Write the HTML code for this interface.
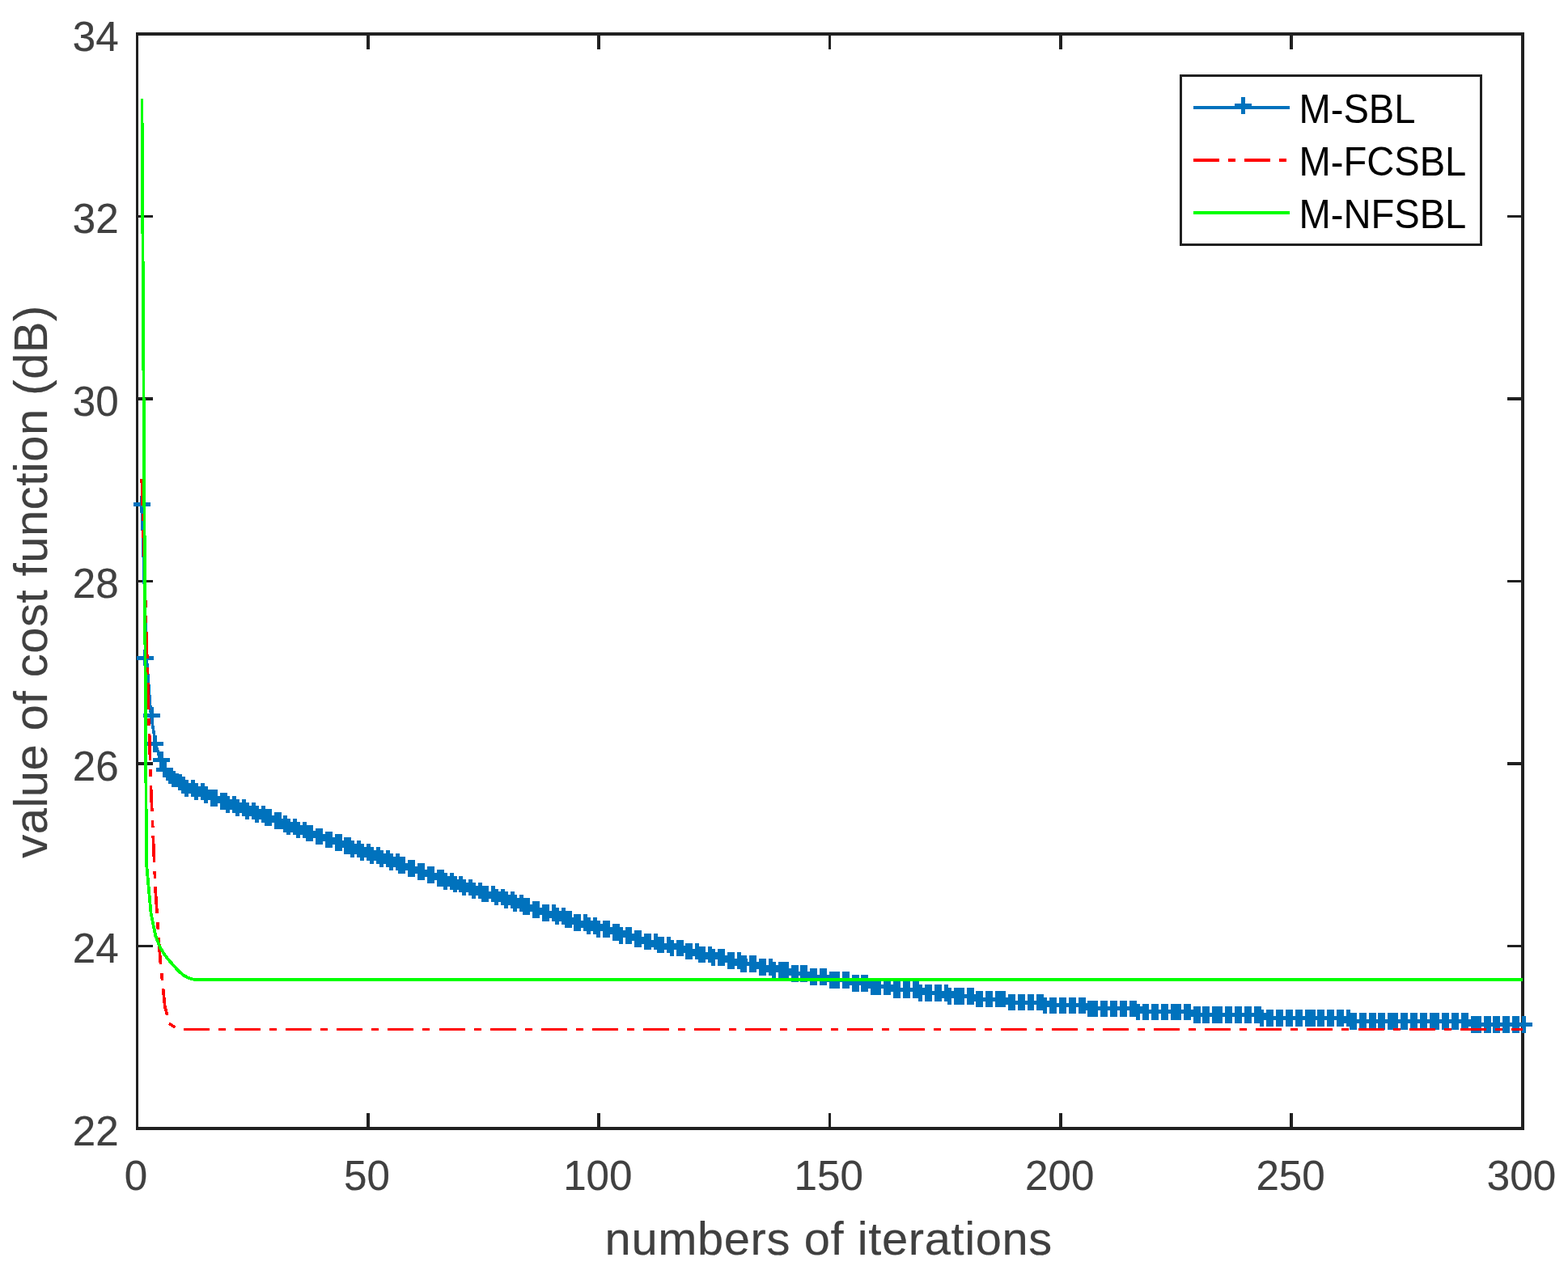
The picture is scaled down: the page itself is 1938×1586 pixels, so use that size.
<!DOCTYPE html>
<html lang="en"><head><meta charset="utf-8"><title>Convergence of cost function</title>
<style>html,body{margin:0;padding:0;background:#fff;}body{width:1938px;height:1586px;overflow:hidden;}svg{display:block;}text{font-family:"Liberation Sans",Arial,Helvetica,sans-serif;}.xt,.yt,#xl,#yl{stroke:#404040;stroke-width:0.2px;}</style></head>
<body>
<svg width="1938" height="1586" viewBox="0 0 1938 1586">
<rect x="0" y="0" width="1938" height="1586" fill="#ffffff"/>
<path id="axes" d="M168,40H1884V44H168zM168,1393H1884V1397H168zM168,40H171V1397H168zM1880,40H1884V1397H1880zM453,44H457V61H453zM453,1376H457V1393H453zM738,44H742V61H738zM738,1376H742V1393H738zM1024,44H1027V61H1024zM1024,1376H1027V1393H1024zM1309,44H1313V61H1309zM1309,1376H1313V1393H1309zM1594,44H1598V61H1594zM1594,1376H1598V1393H1594zM171,266H189V269H171zM1863,266H1880V269H1863zM171,491H189V495H171zM1863,491H1880V495H1863zM171,717H189V720H171zM1863,717H1880V720H1863zM171,942H189V946H171zM1863,942H1880V946H1863zM171,1168H189V1171H171zM1863,1168H1880V1171H1863z" fill="#202020" shape-rendering="crispEdges"/>
<path d="M175.41,623.70 L181.12,813.04 L186.62,884.04 L192.33,919.54 L198.04,939.26 L203.75,951.10 L209.46,958.99 L215.17,962.93 L220.88,966.87 L226.58,970.82 L232.29,974.76 L238.00,974.76 L243.71,978.71 L249.42,978.71 L255.12,982.65 L260.83,986.60 L266.54,986.60 L272.25,990.54 L277.96,990.54 L283.67,994.49 L289.38,994.49 L295.08,998.43 L300.79,998.43 L306.50,1002.37 L312.21,1002.37 L317.92,1006.32 L323.62,1006.32 L329.33,1010.26 L335.04,1010.26 L340.75,1014.21 L346.46,1014.21 L352.17,1018.15 L357.88,1022.10 L363.58,1022.10 L369.29,1026.04 L375.00,1026.04 L380.71,1029.99 L386.42,1029.99 L392.12,1033.93 L397.83,1033.93 L403.54,1037.88 L409.25,1037.88 L414.96,1041.82 L420.67,1041.82 L426.38,1045.76 L432.08,1045.76 L437.79,1049.71 L443.50,1049.71 L449.21,1053.65 L454.92,1053.65 L460.62,1057.60 L466.33,1057.60 L472.04,1061.54 L477.75,1061.54 L483.46,1065.49 L489.17,1065.49 L494.88,1069.43 L500.58,1069.43 L506.29,1073.38 L512.00,1073.38 L517.71,1077.32 L523.42,1077.32 L529.12,1081.26 L534.83,1081.26 L540.54,1085.21 L546.25,1085.21 L551.96,1089.15 L557.67,1089.15 L563.38,1093.10 L569.08,1093.10 L574.79,1097.04 L580.50,1097.04 L586.21,1100.99 L591.92,1100.99 L597.62,1104.93 L603.33,1104.93 L609.04,1104.93 L614.75,1108.88 L620.46,1108.88 L626.17,1112.82 L631.88,1112.82 L637.58,1116.76 L643.29,1116.76 L649.00,1120.71 L654.71,1120.71 L660.42,1124.65 L666.12,1124.65 L671.83,1128.60 L677.54,1128.60 L683.25,1128.60 L688.96,1132.54 L694.67,1132.54 L700.38,1136.49 L706.08,1136.49 L711.79,1140.43 L717.50,1140.43 L723.21,1140.43 L728.92,1144.38 L734.62,1144.38 L740.33,1148.32 L746.04,1148.32 L751.75,1148.32 L757.46,1152.27 L763.17,1152.27 L768.88,1156.21 L774.58,1156.21 L780.29,1156.21 L786.00,1160.15 L791.71,1160.15 L797.42,1164.10 L803.12,1164.10 L808.83,1164.10 L814.54,1168.04 L820.25,1168.04 L825.96,1168.04 L831.67,1171.99 L837.38,1171.99 L843.08,1171.99 L848.79,1175.93 L854.50,1175.93 L860.21,1175.93 L865.92,1179.88 L871.62,1179.88 L877.33,1179.88 L883.04,1183.82 L888.75,1183.82 L894.46,1183.82 L900.17,1187.77 L905.88,1187.77 L911.58,1187.77 L917.29,1191.71 L923.00,1191.71 L928.71,1191.71 L934.42,1191.71 L940.12,1195.66 L945.83,1195.66 L951.54,1195.66 L957.25,1199.60 L962.96,1199.60 L968.67,1199.60 L974.38,1199.60 L980.08,1203.54 L985.79,1203.54 L991.50,1203.54 L997.21,1203.54 L1002.92,1207.49 L1008.62,1207.49 L1014.33,1207.49 L1020.04,1207.49 L1025.75,1211.43 L1031.46,1211.43 L1037.17,1211.43 L1042.88,1211.43 L1048.58,1211.43 L1054.29,1215.38 L1060.00,1215.38 L1065.71,1215.38 L1071.42,1215.38 L1077.12,1219.32 L1082.83,1219.32 L1088.54,1219.32 L1094.25,1219.32 L1099.96,1219.32 L1105.67,1223.27 L1111.38,1223.27 L1117.08,1223.27 L1122.79,1223.27 L1128.50,1223.27 L1134.21,1223.27 L1139.92,1227.21 L1145.62,1227.21 L1151.33,1227.21 L1157.04,1227.21 L1162.75,1227.21 L1168.46,1227.21 L1174.17,1231.16 L1179.88,1231.16 L1185.58,1231.16 L1191.29,1231.16 L1197.00,1231.16 L1202.71,1231.16 L1208.42,1235.10 L1214.12,1235.10 L1219.83,1235.10 L1225.54,1235.10 L1231.25,1235.10 L1236.96,1235.10 L1242.67,1235.10 L1248.38,1239.04 L1254.08,1239.04 L1259.79,1239.04 L1265.50,1239.04 L1271.21,1239.04 L1276.92,1239.04 L1282.62,1239.04 L1288.33,1239.04 L1294.04,1242.99 L1299.75,1242.99 L1305.46,1242.99 L1311.17,1242.99 L1316.88,1242.99 L1322.58,1242.99 L1328.29,1242.99 L1334.00,1242.99 L1339.71,1242.99 L1345.42,1246.93 L1351.12,1246.93 L1356.83,1246.93 L1362.54,1246.93 L1368.25,1246.93 L1373.96,1246.93 L1379.67,1246.93 L1385.38,1246.93 L1391.08,1246.93 L1396.79,1246.93 L1402.50,1246.93 L1408.21,1250.88 L1413.92,1250.88 L1419.62,1250.88 L1425.33,1250.88 L1431.04,1250.88 L1436.75,1250.88 L1442.46,1250.88 L1448.17,1250.88 L1453.88,1250.88 L1459.58,1250.88 L1465.29,1250.88 L1471.00,1250.88 L1476.71,1254.82 L1482.42,1254.82 L1488.12,1254.82 L1493.83,1254.82 L1499.54,1254.82 L1505.25,1254.82 L1510.96,1254.82 L1516.67,1254.82 L1522.38,1254.82 L1528.08,1254.82 L1533.79,1254.82 L1539.50,1254.82 L1545.21,1254.82 L1550.92,1254.82 L1556.62,1254.82 L1562.33,1258.77 L1568.04,1258.77 L1573.75,1258.77 L1579.46,1258.77 L1585.17,1258.77 L1590.88,1258.77 L1596.58,1258.77 L1602.29,1258.77 L1608.00,1258.77 L1613.71,1258.77 L1619.42,1258.77 L1625.12,1258.77 L1630.83,1258.77 L1636.54,1258.77 L1642.25,1258.77 L1647.96,1258.77 L1653.67,1258.77 L1659.38,1258.77 L1665.08,1258.77 L1670.79,1262.71 L1676.50,1262.71 L1682.21,1262.71 L1687.92,1262.71 L1693.62,1262.71 L1699.33,1262.71 L1705.04,1262.71 L1710.75,1262.71 L1716.46,1262.71 L1722.17,1262.71 L1727.88,1262.71 L1733.58,1262.71 L1739.29,1262.71 L1745.00,1262.71 L1750.71,1262.71 L1756.42,1262.71 L1762.12,1262.71 L1767.83,1262.71 L1773.54,1262.71 L1779.25,1262.71 L1784.96,1262.71 L1790.67,1262.71 L1796.38,1262.71 L1802.08,1262.71 L1807.79,1262.71 L1813.50,1262.71 L1819.21,1266.66 L1824.92,1266.66 L1830.62,1266.66 L1836.33,1266.66 L1842.04,1266.66 L1847.75,1266.66 L1853.46,1266.66 L1859.17,1266.66 L1864.88,1266.66 L1870.58,1266.66 L1876.29,1266.66 L1882.00,1266.66" fill="none" stroke="#0072BD" stroke-width="3.7" stroke-linejoin="miter" shape-rendering="crispEdges"/>
<path id="mk" d="M165,621h21v5h-21zM173,613h5v21h-5zM169,811h21v5h-21zM177,803h5v20h-5zM177,882h21v5h-21zM185,874h5v20h-5zM181,917h21v5h-21zM189,909h5v21h-5zM189,937h21v5h-21zM197,929h5v21h-5zM193,949h21v5h-21zM201,941h5v20h-5zM201,956h20v5h-20zM208,949h5v20h-5zM205,960h20v5h-20zM212,953h5v20h-5zM212,964h21v5h-21zM220,957h5v20h-5zM216,968h21v5h-21zM224,960h5v21h-5zM220,972h21v5h-21zM228,964h5v21h-5zM228,972h21v5h-21zM236,964h5v21h-5zM232,976h21v5h-21zM240,968h5v21h-5zM240,976h21v5h-21zM248,968h5v21h-5zM244,980h21v5h-21zM252,972h5v21h-5zM252,984h21v5h-21zM260,976h5v21h-5zM256,984h21v5h-21zM264,976h5v21h-5zM264,988h21v5h-21zM272,980h5v21h-5zM268,988h20v5h-20zM276,980h5v21h-5zM272,992h20v5h-20zM279,984h5v21h-5zM280,992h20v5h-20zM287,984h5v21h-5zM283,996h21v5h-21zM291,988h5v21h-5zM291,996h21v5h-21zM299,988h5v21h-5zM295,1000h21v5h-21zM303,992h5v21h-5zM303,1000h21v5h-21zM311,992h5v21h-5zM307,1004h21v5h-21zM315,996h5v21h-5zM315,1004h21v5h-21zM323,996h5v21h-5zM319,1008h21v5h-21zM327,1000h5v21h-5zM323,1008h21v5h-21zM331,1000h5v21h-5zM331,1012h21v5h-21zM339,1004h5v21h-5zM335,1012h21v5h-21zM343,1004h5v21h-5zM343,1016h20v5h-20zM350,1008h5v21h-5zM347,1020h20v5h-20zM354,1012h5v20h-5zM354,1020h21v5h-21zM362,1012h5v20h-5zM358,1024h21v5h-21zM366,1016h5v20h-5zM366,1024h21v5h-21zM374,1016h5v20h-5zM370,1027h21v5h-21zM378,1020h5v20h-5zM374,1027h21v5h-21zM382,1020h5v20h-5zM382,1031h21v5h-21zM390,1024h5v20h-5zM386,1031h21v5h-21zM394,1024h5v20h-5zM394,1035h21v5h-21zM402,1028h5v20h-5zM398,1035h21v5h-21zM406,1028h5v20h-5zM406,1039h21v5h-21zM414,1031h5v21h-5zM410,1039h20v5h-20zM418,1031h5v21h-5zM418,1043h20v5h-20zM425,1035h5v21h-5zM422,1043h20v5h-20zM429,1035h5v21h-5zM425,1047h21v5h-21zM433,1039h5v21h-5zM433,1047h21v5h-21zM441,1039h5v21h-5zM437,1051h21v5h-21zM445,1043h5v21h-5zM445,1051h21v5h-21zM453,1043h5v21h-5zM449,1055h21v5h-21zM457,1047h5v21h-5zM457,1055h21v5h-21zM465,1047h5v21h-5zM461,1059h21v5h-21zM469,1051h5v21h-5zM469,1059h21v5h-21zM477,1051h5v21h-5zM473,1063h21v5h-21zM481,1055h5v21h-5zM481,1063h20v5h-20zM489,1055h5v21h-5zM485,1067h20v5h-20zM492,1059h5v21h-5zM489,1067h20v5h-20zM496,1059h5v21h-5zM496,1071h21v5h-21zM504,1063h5v21h-5zM500,1071h21v5h-21zM508,1063h5v21h-5zM508,1075h21v5h-21zM516,1067h5v21h-5zM512,1075h21v5h-21zM520,1067h5v21h-5zM520,1079h21v5h-21zM528,1071h5v21h-5zM524,1079h21v5h-21zM532,1071h5v21h-5zM532,1083h21v5h-21zM540,1075h5v21h-5zM536,1083h21v5h-21zM544,1075h5v21h-5zM540,1087h21v5h-21zM548,1079h5v21h-5zM548,1087h21v5h-21zM556,1079h5v21h-5zM552,1091h20v5h-20zM560,1083h5v20h-5zM560,1091h20v5h-20zM567,1083h5v20h-5zM564,1095h20v5h-20zM571,1087h5v20h-5zM571,1095h21v5h-21zM579,1087h5v20h-5zM575,1098h21v5h-21zM583,1091h5v20h-5zM583,1098h21v5h-21zM591,1091h5v20h-5zM587,1102h21v5h-21zM595,1095h5v20h-5zM591,1102h21v5h-21zM599,1095h5v20h-5zM599,1102h21v5h-21zM607,1095h5v20h-5zM603,1106h21v5h-21zM611,1099h5v20h-5zM611,1106h21v5h-21zM619,1099h5v20h-5zM615,1110h21v5h-21zM623,1102h5v21h-5zM623,1110h20v5h-20zM631,1102h5v21h-5zM627,1114h20v5h-20zM634,1106h5v21h-5zM635,1114h20v5h-20zM642,1106h5v21h-5zM638,1118h21v5h-21zM646,1110h5v21h-5zM642,1118h21v5h-21zM650,1110h5v21h-5zM650,1122h21v5h-21zM658,1114h5v21h-5zM654,1122h21v5h-21zM662,1114h5v21h-5zM662,1126h21v5h-21zM670,1118h5v21h-5zM666,1126h21v5h-21zM674,1118h5v21h-5zM674,1126h21v5h-21zM682,1118h5v21h-5zM678,1130h21v5h-21zM686,1122h5v21h-5zM686,1130h21v5h-21zM694,1122h5v21h-5zM690,1134h21v5h-21zM698,1126h5v21h-5zM694,1134h20v5h-20zM702,1126h5v21h-5zM702,1138h20v5h-20zM709,1130h5v21h-5zM706,1138h20v5h-20zM713,1130h5v21h-5zM713,1138h21v5h-21zM721,1130h5v21h-5zM717,1142h21v5h-21zM725,1134h5v21h-5zM725,1142h21v5h-21zM733,1134h5v21h-5zM729,1146h21v5h-21zM737,1138h5v21h-5zM737,1146h21v5h-21zM745,1138h5v21h-5zM741,1146h21v5h-21zM749,1138h5v21h-5zM749,1150h21v5h-21zM757,1142h5v21h-5zM753,1150h21v5h-21zM761,1142h5v21h-5zM757,1154h21v5h-21zM765,1146h5v21h-5zM765,1154h20v5h-20zM773,1146h5v21h-5zM769,1154h20v5h-20zM776,1146h5v21h-5zM777,1158h20v5h-20zM784,1150h5v21h-5zM780,1158h21v5h-21zM788,1150h5v21h-5zM788,1162h21v5h-21zM796,1154h5v20h-5zM792,1162h21v5h-21zM800,1154h5v20h-5zM800,1162h21v5h-21zM808,1154h5v20h-5zM804,1166h21v5h-21zM812,1158h5v20h-5zM808,1166h21v5h-21zM816,1158h5v20h-5zM816,1166h21v5h-21zM824,1158h5v20h-5zM820,1169h21v5h-21zM828,1162h5v20h-5zM828,1169h21v5h-21zM836,1162h5v20h-5zM832,1169h21v5h-21zM840,1162h5v20h-5zM840,1173h20v5h-20zM847,1166h5v20h-5zM844,1173h20v5h-20zM851,1166h5v20h-5zM851,1173h21v5h-21zM859,1166h5v20h-5zM855,1177h21v5h-21zM863,1170h5v20h-5zM859,1177h21v5h-21zM867,1170h5v20h-5zM867,1177h21v5h-21zM875,1170h5v20h-5zM871,1181h21v5h-21zM879,1173h5v21h-5zM879,1181h21v5h-21zM887,1173h5v21h-5zM883,1181h21v5h-21zM891,1173h5v21h-5zM891,1185h21v5h-21zM899,1177h5v21h-5zM895,1185h21v5h-21zM903,1177h5v21h-5zM903,1185h21v5h-21zM911,1177h5v21h-5zM907,1189h20v5h-20zM915,1181h5v21h-5zM911,1189h20v5h-20zM918,1181h5v21h-5zM919,1189h20v5h-20zM926,1181h5v21h-5zM922,1189h21v5h-21zM930,1181h5v21h-5zM930,1193h21v5h-21zM938,1185h5v21h-5zM934,1193h21v5h-21zM942,1185h5v21h-5zM942,1193h21v5h-21zM950,1185h5v21h-5zM946,1197h21v5h-21zM954,1189h5v21h-5zM954,1197h21v5h-21zM962,1189h5v21h-5zM958,1197h21v5h-21zM966,1189h5v21h-5zM962,1197h21v5h-21zM970,1189h5v21h-5zM970,1201h21v5h-21zM978,1193h5v21h-5zM974,1201h21v5h-21zM982,1193h5v21h-5zM982,1201h20v5h-20zM989,1193h5v21h-5zM986,1201h20v5h-20zM993,1193h5v21h-5zM993,1205h21v5h-21zM1001,1197h5v21h-5zM997,1205h21v5h-21zM1005,1197h5v21h-5zM1005,1205h21v5h-21zM1013,1197h5v21h-5zM1009,1205h21v5h-21zM1017,1197h5v21h-5zM1017,1209h21v5h-21zM1025,1201h5v21h-5zM1021,1209h21v5h-21zM1029,1201h5v21h-5zM1025,1209h21v5h-21zM1033,1201h5v21h-5zM1033,1209h21v5h-21zM1041,1201h5v21h-5zM1037,1209h21v5h-21zM1045,1201h5v21h-5zM1045,1213h21v5h-21zM1053,1205h5v21h-5zM1049,1213h20v5h-20zM1057,1205h5v21h-5zM1057,1213h20v5h-20zM1064,1205h5v21h-5zM1061,1213h20v5h-20zM1068,1205h5v21h-5zM1068,1217h21v5h-21zM1076,1209h5v21h-5zM1072,1217h21v5h-21zM1080,1209h5v21h-5zM1076,1217h21v5h-21zM1084,1209h5v21h-5zM1084,1217h21v5h-21zM1092,1209h5v21h-5zM1088,1217h21v5h-21zM1096,1209h5v21h-5zM1096,1221h21v5h-21zM1104,1213h5v21h-5zM1100,1221h21v5h-21zM1108,1213h5v21h-5zM1108,1221h21v5h-21zM1116,1213h5v21h-5zM1112,1221h21v5h-21zM1120,1213h5v21h-5zM1120,1221h20v5h-20zM1128,1213h5v21h-5zM1124,1221h20v5h-20zM1131,1213h5v21h-5zM1128,1225h20v5h-20zM1135,1217h5v21h-5zM1135,1225h21v5h-21zM1143,1217h5v21h-5zM1139,1225h21v5h-21zM1147,1217h5v21h-5zM1147,1225h21v5h-21zM1155,1217h5v21h-5zM1151,1225h21v5h-21zM1159,1217h5v21h-5zM1159,1225h21v5h-21zM1167,1217h5v21h-5zM1163,1229h21v5h-21zM1171,1221h5v21h-5zM1171,1229h21v5h-21zM1179,1221h5v21h-5zM1175,1229h21v5h-21zM1183,1221h5v21h-5zM1179,1229h21v5h-21zM1187,1221h5v21h-5zM1187,1229h21v5h-21zM1195,1221h5v21h-5zM1191,1229h20v5h-20zM1199,1221h5v21h-5zM1199,1233h20v5h-20zM1206,1225h5v20h-5zM1203,1233h20v5h-20zM1210,1225h5v20h-5zM1210,1233h21v5h-21zM1218,1225h5v20h-5zM1214,1233h21v5h-21zM1222,1225h5v20h-5zM1222,1233h21v5h-21zM1230,1225h5v20h-5zM1226,1233h21v5h-21zM1234,1225h5v20h-5zM1230,1233h21v5h-21zM1238,1225h5v20h-5zM1238,1237h21v5h-21zM1246,1229h5v20h-5zM1242,1237h21v5h-21zM1250,1229h5v20h-5zM1250,1237h21v5h-21zM1258,1229h5v20h-5zM1254,1237h21v5h-21zM1262,1229h5v20h-5zM1262,1237h20v5h-20zM1270,1229h5v20h-5zM1266,1237h20v5h-20zM1273,1229h5v20h-5zM1274,1237h20v5h-20zM1281,1229h5v20h-5zM1277,1237h21v5h-21zM1285,1229h5v20h-5zM1281,1240h21v5h-21zM1289,1233h5v20h-5zM1289,1240h21v5h-21zM1297,1233h5v20h-5zM1293,1240h21v5h-21zM1301,1233h5v20h-5zM1301,1240h21v5h-21zM1309,1233h5v20h-5zM1305,1240h21v5h-21zM1313,1233h5v20h-5zM1313,1240h21v5h-21zM1321,1233h5v20h-5zM1317,1240h21v5h-21zM1325,1233h5v20h-5zM1325,1240h21v5h-21zM1333,1233h5v20h-5zM1329,1240h21v5h-21zM1337,1233h5v20h-5zM1337,1244h20v5h-20zM1344,1237h5v20h-5zM1341,1244h20v5h-20zM1348,1237h5v20h-5zM1345,1244h20v5h-20zM1352,1237h5v20h-5zM1352,1244h21v5h-21zM1360,1237h5v20h-5zM1356,1244h21v5h-21zM1364,1237h5v20h-5zM1364,1244h21v5h-21zM1372,1237h5v20h-5zM1368,1244h21v5h-21zM1376,1237h5v20h-5zM1376,1244h21v5h-21zM1384,1237h5v20h-5zM1380,1244h21v5h-21zM1388,1237h5v20h-5zM1388,1244h21v5h-21zM1396,1237h5v20h-5zM1392,1244h21v5h-21zM1400,1237h5v20h-5zM1396,1248h21v5h-21zM1404,1241h5v20h-5zM1404,1248h20v5h-20zM1412,1241h5v20h-5zM1408,1248h20v5h-20zM1415,1241h5v20h-5zM1416,1248h20v5h-20zM1423,1241h5v20h-5zM1420,1248h20v5h-20zM1427,1241h5v20h-5zM1427,1248h21v5h-21zM1435,1241h5v20h-5zM1431,1248h21v5h-21zM1439,1241h5v20h-5zM1439,1248h21v5h-21zM1447,1241h5v20h-5zM1443,1248h21v5h-21zM1451,1241h5v20h-5zM1447,1248h21v5h-21zM1455,1241h5v20h-5zM1455,1248h21v5h-21zM1463,1241h5v20h-5zM1459,1248h21v5h-21zM1467,1241h5v20h-5zM1467,1252h21v5h-21zM1475,1244h5v21h-5zM1471,1252h21v5h-21zM1479,1244h5v21h-5zM1479,1252h20v5h-20zM1486,1244h5v21h-5zM1483,1252h20v5h-20zM1490,1244h5v21h-5zM1491,1252h20v5h-20zM1498,1244h5v21h-5zM1494,1252h21v5h-21zM1502,1244h5v21h-5zM1498,1252h21v5h-21zM1506,1244h5v21h-5zM1506,1252h21v5h-21zM1514,1244h5v21h-5zM1510,1252h21v5h-21zM1518,1244h5v21h-5zM1518,1252h21v5h-21zM1526,1244h5v21h-5zM1522,1252h21v5h-21zM1530,1244h5v21h-5zM1530,1252h21v5h-21zM1538,1244h5v21h-5zM1534,1252h21v5h-21zM1542,1244h5v21h-5zM1542,1252h21v5h-21zM1550,1244h5v21h-5zM1546,1252h20v5h-20zM1554,1244h5v21h-5zM1550,1256h20v5h-20zM1557,1248h5v21h-5zM1558,1256h20v5h-20zM1565,1248h5v21h-5zM1562,1256h20v5h-20zM1569,1248h5v21h-5zM1569,1256h21v5h-21zM1577,1248h5v21h-5zM1573,1256h21v5h-21zM1581,1248h5v21h-5zM1581,1256h21v5h-21zM1589,1248h5v21h-5zM1585,1256h21v5h-21zM1593,1248h5v21h-5zM1593,1256h21v5h-21zM1601,1248h5v21h-5zM1597,1256h21v5h-21zM1605,1248h5v21h-5zM1605,1256h21v5h-21zM1613,1248h5v21h-5zM1609,1256h21v5h-21zM1617,1248h5v21h-5zM1613,1256h21v5h-21zM1621,1248h5v21h-5zM1621,1256h20v5h-20zM1628,1248h5v21h-5zM1625,1256h20v5h-20zM1632,1248h5v21h-5zM1633,1256h20v5h-20zM1640,1248h5v21h-5zM1636,1256h21v5h-21zM1644,1248h5v21h-5zM1644,1256h21v5h-21zM1652,1248h5v21h-5zM1648,1256h21v5h-21zM1656,1248h5v21h-5zM1656,1256h21v5h-21zM1664,1248h5v21h-5zM1660,1260h21v5h-21zM1668,1252h5v21h-5zM1664,1260h21v5h-21zM1672,1252h5v21h-5zM1672,1260h21v5h-21zM1680,1252h5v21h-5zM1676,1260h21v5h-21zM1684,1252h5v21h-5zM1684,1260h21v5h-21zM1692,1252h5v21h-5zM1688,1260h20v5h-20zM1696,1252h5v21h-5zM1696,1260h20v5h-20zM1703,1252h5v21h-5zM1700,1260h20v5h-20zM1707,1252h5v21h-5zM1707,1260h21v5h-21zM1715,1252h5v21h-5zM1711,1260h21v5h-21zM1719,1252h5v21h-5zM1715,1260h21v5h-21zM1723,1252h5v21h-5zM1723,1260h21v5h-21zM1731,1252h5v21h-5zM1727,1260h21v5h-21zM1735,1252h5v21h-5zM1735,1260h21v5h-21zM1743,1252h5v21h-5zM1739,1260h21v5h-21zM1747,1252h5v21h-5zM1747,1260h21v5h-21zM1755,1252h5v21h-5zM1751,1260h21v5h-21zM1759,1252h5v21h-5zM1759,1260h20v5h-20zM1767,1252h5v21h-5zM1763,1260h20v5h-20zM1770,1252h5v21h-5zM1767,1260h20v5h-20zM1774,1252h5v21h-5zM1775,1260h20v5h-20zM1782,1252h5v21h-5zM1778,1260h21v5h-21zM1786,1252h5v21h-5zM1786,1260h21v5h-21zM1794,1252h5v21h-5zM1790,1260h21v5h-21zM1798,1252h5v21h-5zM1798,1260h21v5h-21zM1806,1252h5v21h-5zM1802,1260h21v5h-21zM1810,1252h5v21h-5zM1810,1264h21v5h-21zM1818,1256h5v21h-5zM1814,1264h21v5h-21zM1822,1256h5v21h-5zM1818,1264h21v5h-21zM1826,1256h5v21h-5zM1826,1264h21v5h-21zM1834,1256h5v21h-5zM1830,1264h20v5h-20zM1838,1256h5v21h-5zM1838,1264h20v5h-20zM1845,1256h5v21h-5zM1842,1264h20v5h-20zM1849,1256h5v21h-5zM1849,1264h21v5h-21zM1857,1256h5v21h-5zM1853,1264h21v5h-21zM1861,1256h5v21h-5zM1861,1264h21v5h-21zM1869,1256h5v21h-5zM1865,1264h21v5h-21zM1873,1256h5v21h-5zM1873,1264h21v5h-21zM1881,1256h5v21h-5z" fill="#0072BD" shape-rendering="crispEdges"/>
<path d="M175.21,592.00 L176.19,625.00M177.08,655.00 L178.06,688.00M178.95,718.00 L179.92,751.00M180.81,781.00 L181.20,794.00 L181.80,814.00M182.70,844.00 L183.69,877.00M184.59,907.00 L185.58,940.00M186.51,971.00 L186.62,975.00 L187.87,1003.00M189.21,1033.00 L190.68,1066.00M192.02,1096.00 L192.33,1103.00 L194.10,1129.00M196.14,1159.00 L198.04,1187.00 L198.54,1192.00M201.55,1222.00 L203.75,1244.00 L206.67,1255.00M176.48,635.00 L176.75,644.00M178.35,698.00 L178.62,707.00M180.22,761.00 L180.49,770.00M182.13,825.00 L182.40,834.00M184.02,888.00 L184.29,897.00M185.91,951.00 L186.18,960.00M188.36,1014.00 L188.77,1023.00M191.17,1077.00 L191.58,1086.00M194.85,1140.00 L195.46,1149.00M199.64,1203.00 L200.55,1212.00M209.0,1265.2 L216.3,1270.0" fill="none" stroke="#FF0000" stroke-width="3.7" stroke-linecap="butt" shape-rendering="crispEdges"/>
<path d="M227.05,1271H259.05V1274H227.05zM270.05,1271H279.05V1274H270.05zM290.16,1271H322.16V1274H290.16zM333.16,1271H342.16V1274H333.16zM353.27,1271H385.27V1274H353.27zM396.27,1271H405.27V1274H396.27zM416.38,1271H448.38V1274H416.38zM459.38,1271H468.38V1274H459.38zM479.49,1271H511.49V1274H479.49zM522.49,1271H531.49V1274H522.49zM542.60,1271H574.60V1274H542.60zM585.60,1271H594.60V1274H585.60zM605.71,1271H637.71V1274H605.71zM648.71,1271H657.71V1274H648.71zM668.82,1271H700.82V1274H668.82zM711.82,1271H720.82V1274H711.82zM731.93,1271H763.93V1274H731.93zM774.93,1271H783.93V1274H774.93zM795.04,1271H827.04V1274H795.04zM838.04,1271H847.04V1274H838.04zM858.15,1271H890.15V1274H858.15zM901.15,1271H910.15V1274H901.15zM921.26,1271H953.26V1274H921.26zM964.26,1271H973.26V1274H964.26zM984.37,1271H1016.37V1274H984.37zM1027.37,1271H1036.37V1274H1027.37zM1047.48,1271H1079.48V1274H1047.48zM1090.48,1271H1099.48V1274H1090.48zM1110.59,1271H1142.59V1274H1110.59zM1153.59,1271H1162.59V1274H1153.59zM1173.70,1271H1205.70V1274H1173.70zM1216.70,1271H1225.70V1274H1216.70zM1236.81,1271H1268.81V1274H1236.81zM1279.81,1271H1288.81V1274H1279.81zM1299.92,1271H1331.92V1274H1299.92zM1342.92,1271H1351.92V1274H1342.92zM1363.03,1271H1395.03V1274H1363.03zM1406.03,1271H1415.03V1274H1406.03zM1426.14,1271H1458.14V1274H1426.14zM1469.14,1271H1478.14V1274H1469.14zM1489.25,1271H1521.25V1274H1489.25zM1532.25,1271H1541.25V1274H1532.25zM1552.36,1271H1584.36V1274H1552.36zM1595.36,1271H1604.36V1274H1595.36zM1615.47,1271H1647.47V1274H1615.47zM1658.47,1271H1667.47V1274H1658.47zM1678.58,1271H1710.58V1274H1678.58zM1721.58,1271H1730.58V1274H1721.58zM1741.69,1271H1773.69V1274H1741.69zM1784.69,1271H1793.69V1274H1784.69zM1804.80,1271H1836.80V1274H1804.80zM1847.80,1271H1856.80V1274H1847.80zM1867.91,1271H1882.00V1274H1867.91z" fill="#FF0000" shape-rendering="crispEdges"/>
<path d="M175.43,122.00 L181.00,1067.00 L186.62,1129.00 L192.33,1157.00 L198.04,1171.50 L203.75,1180.70 L209.46,1187.80 L215.17,1194.20 L220.88,1200.50 L226.58,1205.40 L232.29,1208.60 L238.00,1210.50 L243.71,1211.00 L1882.00,1211.00" fill="none" stroke="#00FF00" stroke-width="3.8" stroke-linejoin="round" shape-rendering="crispEdges"/>
<rect x="1458" y="92" width="374" height="212" fill="#ffffff"/>
<path d="M1458,92H1832V95H1458zM1458,301H1832V304H1458zM1458,92H1461V304H1458zM1829,92H1832V304H1829z" fill="#202020" shape-rendering="crispEdges"/>
<g shape-rendering="crispEdges"><rect x="1475" y="131" width="119" height="4" fill="#0072BD"/><rect x="1526" y="128" width="21" height="5" fill="#0072BD"/><rect x="1534" y="120" width="5" height="21" fill="#0072BD"/><path d="M1475,196h32v4h-32zM1518,196h9v4h-9zM1538,196h32v4h-32zM1581,196h9v4h-9z" fill="#FF0000"/><rect x="1475" y="261" width="119" height="4" fill="#00FF00"/></g>
<text transform="translate(1605.4,152.0) scale(0.997,1.07)" x="0" y="0" font-size="47.3" fill="#000000" class="lg">M-SBL</text>
<text transform="translate(1605.4,216.8) scale(0.997,1.07)" x="0" y="0" font-size="47.3" fill="#000000" class="lg">M-FCSBL</text>
<text transform="translate(1605.4,281.7) scale(0.997,1.07)" x="0" y="0" font-size="47.3" fill="#000000" class="lg">M-NFSBL</text>
<text transform="translate(168.00,1470.5) scale(0.985,1)" x="0" y="0" font-size="51.9" fill="#404040" text-anchor="middle" class="xt">0</text>
<text transform="translate(453.42,1470.5) scale(0.985,1)" x="0" y="0" font-size="51.9" fill="#404040" text-anchor="middle" class="xt">50</text>
<text transform="translate(738.83,1470.5) scale(0.985,1)" x="0" y="0" font-size="51.9" fill="#404040" text-anchor="middle" class="xt">100</text>
<text transform="translate(1024.25,1470.5) scale(0.985,1)" x="0" y="0" font-size="51.9" fill="#404040" text-anchor="middle" class="xt">150</text>
<text transform="translate(1309.67,1470.5) scale(0.985,1)" x="0" y="0" font-size="51.9" fill="#404040" text-anchor="middle" class="xt">200</text>
<text transform="translate(1595.08,1470.5) scale(0.985,1)" x="0" y="0" font-size="51.9" fill="#404040" text-anchor="middle" class="xt">250</text>
<text transform="translate(1880.50,1470.5) scale(0.985,1)" x="0" y="0" font-size="51.9" fill="#404040" text-anchor="middle" class="xt">300</text>
<text transform="translate(146.7,62.90) scale(0.985,1)" x="0" y="0" font-size="51.9" fill="#404040" text-anchor="end" class="yt">34</text>
<text transform="translate(146.7,288.40) scale(0.985,1)" x="0" y="0" font-size="51.9" fill="#404040" text-anchor="end" class="yt">32</text>
<text transform="translate(146.7,513.90) scale(0.985,1)" x="0" y="0" font-size="51.9" fill="#404040" text-anchor="end" class="yt">30</text>
<text transform="translate(146.7,739.40) scale(0.985,1)" x="0" y="0" font-size="51.9" fill="#404040" text-anchor="end" class="yt">28</text>
<text transform="translate(146.7,964.90) scale(0.985,1)" x="0" y="0" font-size="51.9" fill="#404040" text-anchor="end" class="yt">26</text>
<text transform="translate(146.7,1190.40) scale(0.985,1)" x="0" y="0" font-size="51.9" fill="#404040" text-anchor="end" class="yt">24</text>
<text transform="translate(146.7,1415.90) scale(0.985,1)" x="0" y="0" font-size="51.9" fill="#404040" text-anchor="end" class="yt">22</text>
<text id="xl" x="1024.2" y="1550.6" font-size="57.85" fill="#404040" text-anchor="middle" letter-spacing="0.62">numbers of iterations</text>
<text id="yl" transform="translate(57.8,719.0) rotate(-90)" x="0" y="0" font-size="57.85" fill="#404040" text-anchor="middle" letter-spacing="0.55">value of cost function (dB)</text>
</svg>
</body></html>
